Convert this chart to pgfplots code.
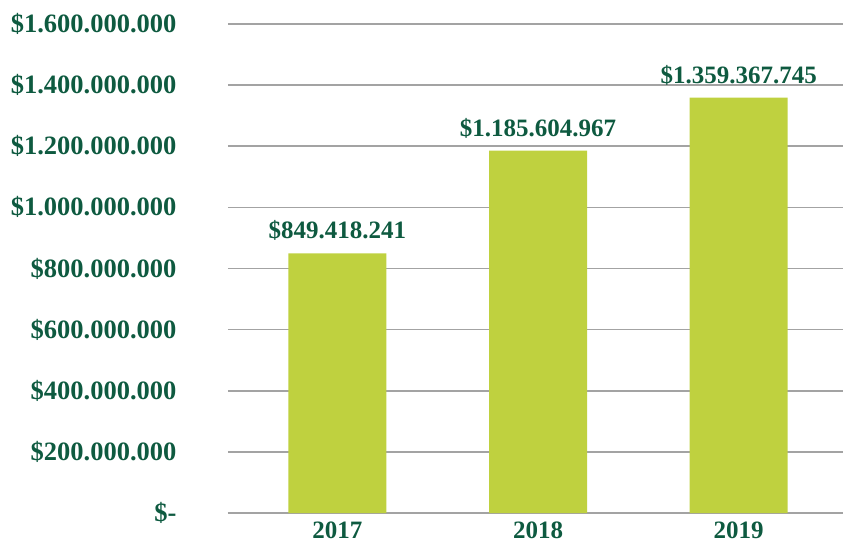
\documentclass[border=0pt]{standalone}
\usepackage{pgfplots}
\pgfplotsset{compat=1.18}
\usepackage{fontspec}
\setmainfont{Liberation Serif}
\definecolor{txtgreen}{HTML}{0E5A40}
\definecolor{barlime}{HTML}{BFD13F}
\definecolor{gridgray}{HTML}{A3A3A3}
\begin{document}
\begin{tikzpicture}
\begin{axis}[
  name=ax,
  scale only axis,
  width=615pt, height=489pt,
  xmin=-0.545, xmax=2.52,
  ymin=0, ymax=1600,
  axis x line*=bottom,
  axis y line*=left,
  x axis line style={draw=gridgray, line width=2pt},
  y axis line style={draw=none},
  ytick={0,200,400,600,800,1000,1200,1400,1600},
  yticklabels={\$-,\$200.000.000,\$400.000.000,\$600.000.000,\$800.000.000,\$1.000.000.000,\$1.200.000.000,\$1.400.000.000,\$1.600.000.000},
  ymajorgrids,
  grid style={draw=gridgray, line width=1.7pt},
  major tick length=0pt,
  xtick={0,1,2},
  xticklabels={2017,2018,2019},
  tick label style={font=\fontsize{25}{29}\selectfont\bfseries, text=txtgreen},
  yticklabel style={font=\fontsize{26.5}{30}\selectfont\bfseries, anchor=east, xshift=-48pt},
  xticklabel style={yshift=-5pt},
  ytick style={draw=none},
  xtick style={draw=none},
  clip=false,
]
\addplot[ybar, bar width=98pt, fill=barlime, draw=none,
  point meta=explicit symbolic,
  nodes near coords,
  nodes near coords style={font=\fontsize{25}{29}\selectfont\bfseries, text=txtgreen, anchor=south, yshift=9pt}]
  coordinates {
    (0,849.418241) [\$849.418.241]
    (1,1185.604967) [\$1.185.604.967]
    (2,1359.367745) [\$1.359.367.745]
  };
\end{axis}
\pgfresetboundingbox
\path[use as bounding box] ([xshift=-228pt,yshift=-33pt]ax.south west) rectangle ([yshift=24pt]ax.north east);
\end{tikzpicture}
\end{document}
